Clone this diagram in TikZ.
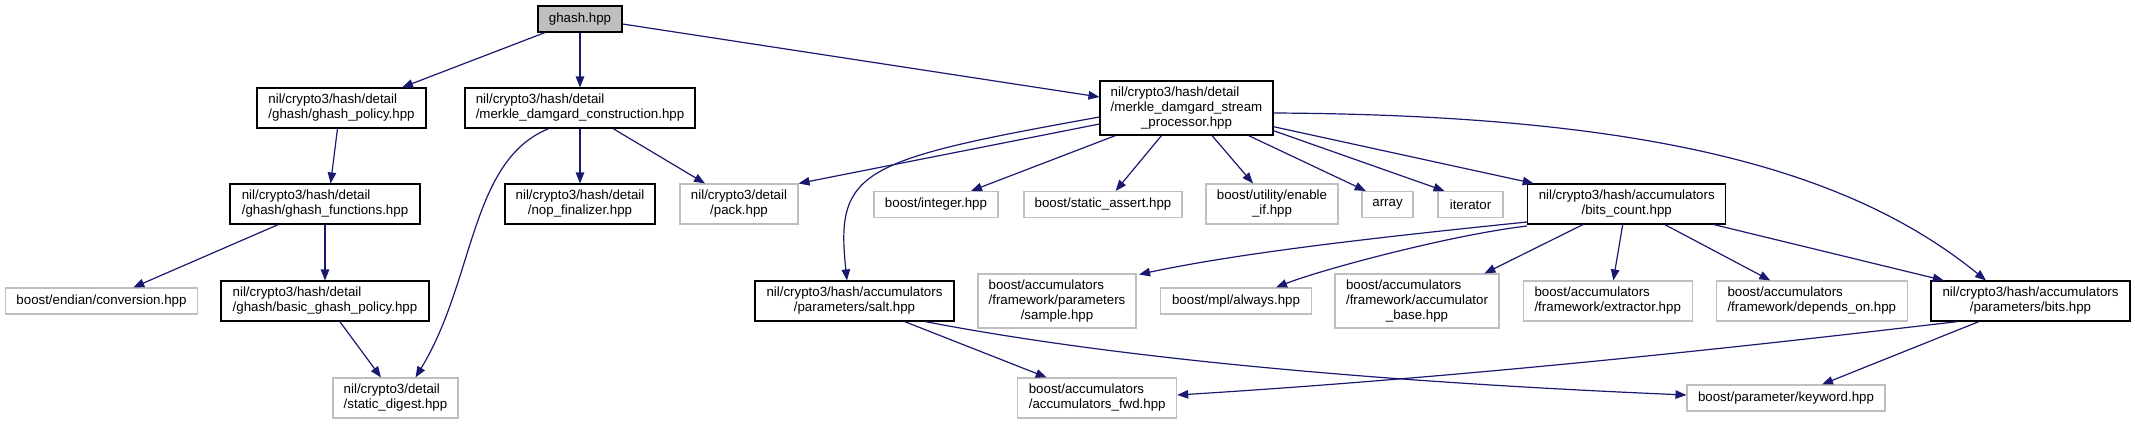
\documentclass[tikz,border=0pt]{standalone}
\usepackage{fontspec}
\setmainfont{Liberation Sans}
\usetikzlibrary{arrows.meta,calc}
\definecolor{edgeblue}{HTML}{191970}
\definecolor{extgray}{HTML}{BFBFBF}
\definecolor{hgray}{HTML}{BFBFBF}
\newcommand{\twol}[2]{\begin{tabular}{@{}l@{}}#1\\\multicolumn{1}{@{}c@{}}{#2}\end{tabular}}
\newcommand{\threel}[3]{\begin{tabular}{@{}l@{}}#1\\#2\\\multicolumn{1}{@{}c@{}}{#3}\end{tabular}}
\tikzset{
  box/.style={draw, line width=1.1pt, inner sep=0pt, anchor=center, font=\fontsize{13.3}{15}\selectfont},
  doc/.style={box, draw=black},
  ext/.style={box, draw=extgray},
  dep/.style={draw=edgeblue, line width=1.2pt, -{Triangle[length=11pt,width=8.5pt]}},
}
\begin{document}
\begin{tikzpicture}[x=1pt,y=-1pt]
\useasboundingbox (0,0) rectangle (2135,424);
% row 0
\node[doc, fill=hgray, minimum width=84pt, minimum height=26pt] (ghash) at (580,19) {ghash.hpp};
% row 1
\node[doc, minimum width=169pt, minimum height=40pt] (gpol) at (341.5,108) {\twol{nil/crypto3/hash/detail}{/ghash/ghash\_policy.hpp}};
\node[doc, minimum width=230pt, minimum height=40pt] (mdc) at (580,108) {\twol{nil/crypto3/hash/detail}{/merkle\_damgard\_construction.hpp}};
\node[doc, minimum width=173pt, minimum height=54pt] (mdsp) at (1186.5,108) {\threel{nil/crypto3/hash/detail}{/merkle\_damgard\_stream}{\_processor.hpp}};
% row 2
\node[doc, minimum width=190pt, minimum height=40pt] (gfun) at (325,204) {\twol{nil/crypto3/hash/detail}{/ghash/ghash\_functions.hpp}};
\node[doc, minimum width=150pt, minimum height=40pt] (nop) at (580,204) {\twol{nil/crypto3/hash/detail}{/nop\_finalizer.hpp}};
\node[ext, minimum width=118pt, minimum height=40pt] (pack) at (739,204) {\twol{nil/crypto3/detail}{/pack.hpp}};
\node[ext, minimum width=124pt, minimum height=26pt] (integer) at (936,204.5) {boost/integer.hpp};
\node[ext, minimum width=158pt, minimum height=26pt] (sassert) at (1103,204.5) {boost/static\_assert.hpp};
\node[ext, minimum width=132pt, minimum height=40pt] (enableif) at (1272,204) {\twol{boost/utility/enable}{\_if.hpp}};
\node[ext, minimum width=51pt, minimum height=26pt] (array) at (1387.5,204.5) {array};
\node[ext, minimum width=65pt, minimum height=26pt] (iterator) at (1470.5,204.5) {iterator};
\node[doc, minimum width=198pt, minimum height=40pt] (bitscount) at (1626.7,204) {\twol{nil/crypto3/hash/accumulators}{/bits\_count.hpp}};
% row 3
\node[ext, minimum width=192pt, minimum height=26pt] (endian) at (101.5,301) {boost/endian/conversion.hpp};
\node[doc, minimum width=208pt, minimum height=40pt] (bgp) at (325,301) {\twol{nil/crypto3/hash/detail}{/ghash/basic\_ghash\_policy.hpp}};
\node[doc, minimum width=199pt, minimum height=40pt] (salt) at (854.5,301) {\twol{nil/crypto3/hash/accumulators}{/parameters/salt.hpp}};
\node[ext, minimum width=158pt, minimum height=54pt] (sample) at (1057,301) {\threel{boost/accumulators}{/framework/parameters}{/sample.hpp}};
\node[ext, minimum width=151pt, minimum height=26pt] (mpl) at (1236,301) {boost/mpl/always.hpp};
\node[ext, minimum width=164pt, minimum height=54pt] (accbase) at (1417,301) {\threel{boost/accumulators}{/framework/accumulator}{\_base.hpp}};
\node[ext, minimum width=169pt, minimum height=40pt] (extractor) at (1607.7,301) {\twol{boost/accumulators}{/framework/extractor.hpp}};
\node[ext, minimum width=191pt, minimum height=40pt] (depends) at (1811.8,301) {\twol{boost/accumulators}{/framework/depends\_on.hpp}};
\node[doc, minimum width=199pt, minimum height=40pt] (bits) at (2030.5,301) {\twol{nil/crypto3/hash/accumulators}{/parameters/bits.hpp}};
% row 4
\node[ext, minimum width=125pt, minimum height=40pt] (sdigest) at (395.5,398) {\twol{nil/crypto3/detail}{/static\_digest.hpp}};
\node[ext, minimum width=159pt, minimum height=40pt] (accfwd) at (1097.2,398) {\twol{boost/accumulators}{/accumulators\_fwd.hpp}};
\node[ext, minimum width=198pt, minimum height=26pt] (keyword) at (1786,398) {boost/parameter/keyword.hpp};

% edges
\draw[dep] ($(ghash.south)+(-35,0)$) -- ($(gpol.north)+(60.5,0)$);
\draw[dep] (ghash.south) -- (mdc.north);
\draw[dep] ($(ghash.east)+(0,5)$) -- ($(mdsp.west)+(0,-11)$);
\draw[dep] ($(gpol.south)+(-4,0)$) -- ($(gfun.north)+(5.6,0)$);
\draw[dep] ($(mdc.south)+(-31,0)$) .. controls (470,160) and (475,280) .. ($(sdigest.north)+(20,0)$);
\draw[dep] (mdc.south) -- (nop.north);
\draw[dep] ($(mdc.south)+(33,0)$) -- ($(pack.north)+(-34,0)$);
\draw[dep] ($(mdsp.west)+(0,16)$) -- (pack.north east);
\draw[dep] ($(mdsp.west)+(0,9)$) .. controls (860,160) and (835,170) .. ($(salt.north)+(-7.5,0)$);
\draw[dep] ($(mdsp.south)+(-71,0)$) -- ($(integer.north)+(35,0)$);
\draw[dep] ($(mdsp.south)+(-25,0)$) -- ($(sassert.north)+(12.6,0)$);
\draw[dep] ($(mdsp.south)+(25.5,0)$) -- ($(enableif.north)+(-19,0)$);
\draw[dep] ($(mdsp.south)+(62,0)$) -- ($(array.north)+(-21.7,0)$);
\draw[dep] ($(mdsp.east)+(0,22.7)$) -- ($(iterator.north)+(-26,0)$);
\draw[dep] ($(mdsp.east)+(0,18.7)$) -- ($(bitscount.north)+(-93,0)$);
\draw[dep] ($(mdsp.east)+(0,5)$) .. controls (1650,115) and (1850,170) .. ($(bits.north)+(-44.5,0)$);
\draw[dep] ($(bitscount.west)+(0,18)$) .. controls (1350,240) and (1230,255) .. ($(sample.north east)+(2.5,1)$);
\draw[dep] ($(bitscount.west)+(0,22)$) .. controls (1450,235) and (1320,270) .. ($(mpl.north)+(40,0)$);
\draw[dep] ($(bitscount.south)+(-43.7,0)$) -- ($(accbase.north)+(67.4,0)$);
\draw[dep] ($(bitscount.south)+(-4,0)$) -- ($(extractor.north)+(5.6,0)$);
\draw[dep] ($(bitscount.south)+(38,0)$) -- ($(depends.north)+(-41.5,0)$);
\draw[dep] ($(bitscount.south)+(87,0)$) -- ($(bits.north)+(-86.7,0)$);
\draw[dep] ($(salt.south)+(50,0)$) -- ($(accfwd.north)+(-50.5,0)$);
\draw[dep] ($(salt.south)+(70.5,0)$) .. controls (1150,365) and (1450,385) .. ($(keyword.west)+(0,-3)$);
\draw[dep] ($(bits.south)+(-72.6,0)$) .. controls (1800,340) and (1500,375) .. ($(accfwd.east)+(0,-3)$);
\draw[dep] ($(bits.south)+(-51.5,0)$) -- ($(keyword.north)+(36,0)$);
\draw[dep] ($(gfun.south)+(-46.7,0)$) -- ($(endian.north)+(31.8,0)$);
\draw[dep] (gfun.south) -- (bgp.north);
\draw[dep] ($(bgp.south)+(14.8,0)$) -- ($(sdigest.north)+(-14.5,0)$);
\end{tikzpicture}
\end{document}
